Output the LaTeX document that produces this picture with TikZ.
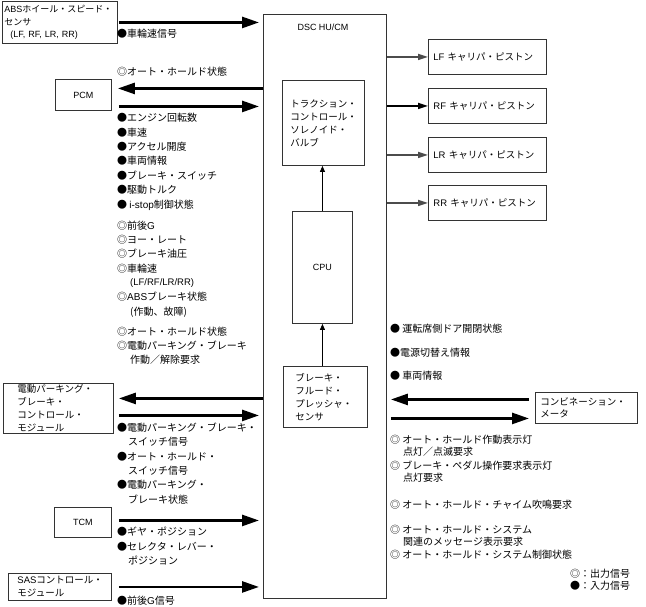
\documentclass[tikz,border=0pt]{standalone}
\usepackage{fontspec}
\setmainfont{Noto Sans CJK JP}
\newfontfamily\lat{Liberation Sans}
\usetikzlibrary{arrows.meta}
\begin{document}
\begin{tikzpicture}[x=1pt,y=-1pt,
  box/.style={draw=black!80, line width=0.9pt, inner ysep=0pt, font=\fontsize{9.5}{13}\selectfont},
  lab/.style={anchor=west, inner sep=0pt, font=\fontsize{10}{12}\selectfont},
  big/.style={line width=2.6pt, -{Triangle[length=17pt,width=11pt]}},
  cal/.style={draw=black!70, line width=1.6pt, -{Triangle[length=10pt,width=6pt]}},
  small/.style={line width=0.8pt, -{Triangle[length=6pt,width=5pt]}}]
\useasboundingbox (0,0) rectangle (646,607);
\fill[white] (0,0) rectangle (646,607);

% main unit
\node[box, anchor=north west, minimum width=123pt, minimum height=584pt] (dsc) at (263,14) {};
\node[font=\lat\fontsize{9}{12}\selectfont] (dsclabel) at (323,27) {DSC HU/CM};
\node[box, anchor=north west, align=left, inner xsep=8pt, text width=66pt, minimum height=85pt] (tcs) at (282,80) {トラクション・\\コントロール・\\ソレノイド・\\バルブ};
\node[box, anchor=north west, minimum width=60pt, minimum height=112pt, font=\lat\fontsize{9}{12}\selectfont] (cpu) at (292,211) {CPU};
\node[box, anchor=north west, align=left, inner xsep=12pt, text width=60pt, minimum height=61pt] (bfp) at (283,366) {ブレーキ・\\フルード・\\プレッシャ・\\センサ};
\draw[small] (bfp.north -| cpu.south) -- (cpu.south);
\draw[small] (cpu.north) -- (cpu.north |- tcs.south);

% left modules
\node[box, anchor=north west, align=left, inner xsep=2pt, text width=111pt, minimum height=42pt, font=\fontsize{9}{12.5}\selectfont] (abs) at (2,1) {{\lat ABS}ホイール・スピード・\\センサ\\\hspace*{6pt}{\lat (LF, RF, LR, RR)}};
\node[box, anchor=north west, minimum width=56pt, minimum height=31pt, font=\lat\fontsize{9}{12}\selectfont] (pcm) at (55,79) {PCM};
\node[box, anchor=north west, align=left, inner xsep=14pt, text width=82pt, minimum height=50pt] (epb) at (3,383) {電動パーキング・\\ブレーキ・\\コントロール・\\モジュール};
\node[box, anchor=north west, minimum width=57pt, minimum height=30pt, font=\lat\fontsize{9}{12}\selectfont] (tcm) at (54,507) {TCM};
\node[box, anchor=north west, align=left, inner xsep=9pt, text width=85pt, minimum height=27pt] (sas) at (8,573) {{\lat SAS}コントロール・\\モジュール};

% right modules
\node[box, anchor=north west, align=left, inner xsep=5pt, text width=108pt, minimum height=35pt] (lf) at (428,39) {{\lat LF} キャリパ・ピストン};
\node[box, anchor=north west, align=left, inner xsep=5pt, text width=108pt, minimum height=35pt] (rf) at (428,88) {{\lat RF} キャリパ・ピストン};
\node[box, anchor=north west, align=left, inner xsep=5pt, text width=108pt, minimum height=35pt] (lr) at (428,137) {{\lat LR} キャリパ・ピストン};
\node[box, anchor=north west, align=left, inner xsep=5pt, text width=108pt, minimum height=35pt] (rr) at (428,185) {{\lat RR} キャリパ・ピストン};
\node[box, anchor=north west, align=left, inner xsep=5pt, text width=92pt, minimum height=31pt, font=\fontsize{9.5}{11.5}\selectfont] (cmb) at (535,392) {コンビネーション・\\メータ};

% caliper arrows
\draw[cal] (lf.west -| dsc.east) -- (lf.west);
\draw[cal, draw=black] (rf.west -| dsc.east) -- (rf.west);
\draw[cal] (lr.west -| dsc.east) -- (lr.west);
\draw[cal] (rr.west -| dsc.east) -- (rr.west);

% thick arrows left
\draw[big, shorten >=4pt] ([xshift=1pt]abs.east) -- (abs.east -| dsc.west);
\draw[big, shorten >=6pt] ([yshift=6.5pt]pcm.east -| dsc.west) -- ([yshift=6.5pt]pcm.east);
\draw[big, shorten >=4pt, shorten <=7pt] ([yshift=-11.5pt]pcm.east) -- ([yshift=-11.5pt]pcm.east -| dsc.west);
\draw[big, shorten >=5pt] ([yshift=10pt]epb.east -| dsc.west) -- ([yshift=10pt]epb.east);
\draw[big, shorten >=4pt, shorten <=5pt] ([yshift=-7pt]epb.east) -- ([yshift=-7pt]epb.east -| dsc.west);
\draw[big, shorten >=4pt, shorten <=7pt] ([yshift=2pt]tcm.east) -- ([yshift=2pt]tcm.east -| dsc.west);
\draw[big, shorten >=4pt, shorten <=7pt] (sas.east) -- (sas.east -| dsc.west);

% thick arrows right
\draw[big, shorten >=4pt, shorten <=6pt] ([yshift=8.5pt]cmb.west) -- ([yshift=8.5pt]cmb.west -| dsc.east);
\draw[big, shorten >=6pt, shorten <=4pt] ([yshift=-10.5pt]cmb.west -| dsc.east) -- ([yshift=-10.5pt]cmb.west);

% left labels
\node[lab] (t1) at (117,34) {●車輪速信号};
\node[lab] (t2) at (117,72) {◎オート・ホールド状態};
\node[lab] (t3) at (117,118) {●エンジン回転数};
\node[lab] (t4) at (117,133) {●車速};
\node[lab] (t5) at (117,147) {●アクセル開度};
\node[lab] (t6) at (117,161) {●車両情報};
\node[lab] (t7) at (117,176) {●ブレーキ・スイッチ};
\node[lab] (t8) at (117,190) {●駆動トルク};
\node[lab] (t9) at (117,205) {● {\lat i-stop}制御状態};
\node[lab] (t10) at (117,226) {◎前後{\lat G}};
\node[lab] (t11) at (117,240) {◎ヨー・レート};
\node[lab] (t12) at (117,254) {◎ブレーキ油圧};
\node[lab] (t13) at (117,269) {◎車輪速};
\node[lab, font=\lat\fontsize{9.5}{12}\selectfont] (t14) at (130,283) {(LF/RF/LR/RR)};
\node[lab] (t15) at (117,297) {◎{\lat ABS}ブレーキ状態};
\node[lab] (t16) at (130,312) {(作動、故障)};
\node[lab] (t17) at (117,332) {◎オート・ホールド状態};
\node[lab] (t18) at (117,346) {◎電動パーキング・ブレーキ};
\node[lab] (t19) at (130,360) {作動／解除要求};
\node[lab] (t20) at (117,428) {●電動パーキング・ブレーキ・};
\node[lab] (t21) at (128,442) {スイッチ信号};
\node[lab] (t22) at (117,457) {●オート・ホールド・};
\node[lab] (t23) at (128,471) {スイッチ信号};
\node[lab] (t24) at (117,485) {●電動パーキング・};
\node[lab] (t25) at (128,500) {ブレーキ状態};
\node[lab] (t26) at (117,532) {●ギヤ・ポジション};
\node[lab] (t27) at (117,547) {●セレクタ・レバー・};
\node[lab] (t28) at (128,561) {ポジション};
\node[lab] (t29) at (117,601) {●前後{\lat G}信号};

% right labels
\node[lab] (r1) at (390,329) {● 運転席側ドア開閉状態};
\node[lab] (r2) at (390,353) {●電源切替え情報};
\node[lab] (r3) at (390,376) {● 車両情報};
\node[lab] (r4) at (390,440) {◎ オート・ホールド作動表示灯};
\node[lab] (r5) at (403,452) {点灯／点滅要求};
\node[lab] (r6) at (390,466) {◎ ブレーキ・ペダル操作要求表示灯};
\node[lab] (r7) at (403,478) {点灯要求};
\node[lab] (r8) at (390,505) {◎ オート・ホールド・チャイム吹鳴要求};
\node[lab] (r9) at (390,530) {◎ オート・ホールド・システム};
\node[lab] (r10) at (403,542) {関連のメッセージ表示要求};
\node[lab] (r11) at (390,555) {◎ オート・ホールド・システム制御状態};
\node[lab] (lg1) at (570,574) {◎：出力信号};
\node[lab] (lg2) at (570,586) {●：入力信号};
\end{tikzpicture}
\end{document}
